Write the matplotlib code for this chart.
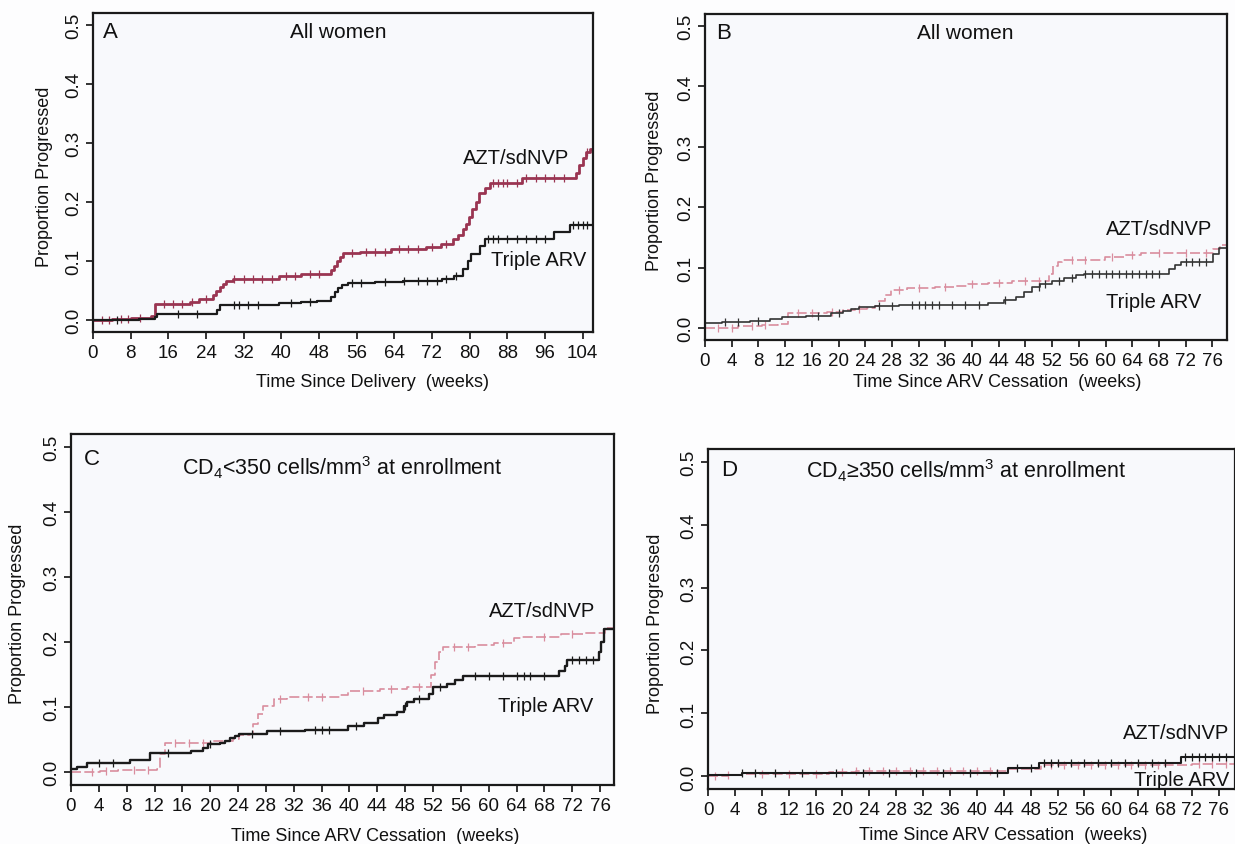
import numpy as np
import matplotlib
matplotlib.use("Agg")
import matplotlib.pyplot as plt

plt.rcParams['font.family'] = ['Liberation Sans', 'DejaVu Sans']
plt.rcParams['mathtext.fontset'] = 'custom'
plt.rcParams['mathtext.rm'] = 'Liberation Sans'
plt.rcParams['mathtext.it'] = 'Liberation Sans:italic'

# ---- data (step times, step values, censor times) ----
A_azt_t = [0, 4, 8, 12.4, 13.1, 20.5, 22.6, 25.5, 26.2, 26.9, 27.6, 28.3, 29.7, 39.6, 44.2,
           50.5, 51.2, 51.8, 52.5, 53.2, 56.7, 63.3, 70.8, 73.9, 76.4, 77.5, 78.5, 79.2, 79.8,
           80.6, 81.3, 81.9, 83.3, 84.3, 91.2, 102.6, 103.3, 104.0, 104.8, 105.5]
A_azt_v = [0.0, 0.002, 0.004, 0.007, 0.027, 0.030, 0.036, 0.042, 0.050, 0.057, 0.062, 0.066,
           0.070, 0.075, 0.078, 0.085, 0.092, 0.100, 0.107, 0.113, 0.116, 0.120, 0.124, 0.129,
           0.137, 0.145, 0.154, 0.163, 0.175, 0.188, 0.200, 0.215, 0.223, 0.232, 0.241, 0.250,
           0.262, 0.275, 0.285, 0.290]
A_azt_cens = [2, 3.5, 6, 7.5, 10, 15, 17, 19, 21, 24, 30, 32, 34, 36, 38, 41, 43, 46, 48, 55,
              58, 60, 62, 65, 67, 69, 72, 75, 85, 86, 87, 88, 90, 92, 94, 96, 98, 100, 105]
A_tri_t = [0, 9.8, 13.1, 13.5, 26.4, 27.0, 39.6, 44.2, 47.5, 50.5, 51.3, 52.0, 52.8, 54.2, 60.0,
           65.8, 74.1, 76.6, 78.5, 79.6, 80.3, 82.3, 83.3, 97.9, 101.4]
A_tri_v = [0.0, 0.002, 0.006, 0.011, 0.018, 0.025, 0.029, 0.031, 0.033, 0.040, 0.048, 0.055,
           0.060, 0.063, 0.065, 0.067, 0.070, 0.074, 0.086, 0.100, 0.112, 0.126, 0.138, 0.150,
           0.1615]
A_tri_cens = [5, 18, 22, 30, 31, 33, 35, 42, 46, 55, 57, 62, 66, 69, 71, 73, 75, 77, 84, 85, 86,
              88, 90, 92, 94, 96, 102, 103, 104, 105]

B_azt_t = [0, 5.0, 8.6, 11.0, 12.5, 18.3, 20.7, 22.5, 24.3, 25.5, 26.1, 27.0, 27.9, 30.3, 34.5,
           37.6, 39.4, 42.4, 46.0, 51.6, 52.2, 52.9, 53.5, 59.9, 62.9, 65.3, 76.1, 77.2]
B_azt_v = [0.0, 0.003, 0.005, 0.007, 0.025, 0.027, 0.029, 0.031, 0.033, 0.036, 0.045, 0.055,
           0.063, 0.066, 0.068, 0.070, 0.072, 0.075, 0.077, 0.090, 0.103, 0.110, 0.113, 0.117,
           0.120, 0.124, 0.130, 0.137]
B_azt_cens = [2, 4, 7, 9, 14, 16, 19, 23, 29, 32, 36, 40, 44, 48, 50, 55, 57, 61, 64, 68, 72, 75]
B_tri_t = [0, 2.6, 6.8, 9.8, 11.6, 15.2, 18.9, 20.7, 21.9, 23.1, 25.5, 29.1, 42.4, 44.8, 46.6,
           47.8, 49.0, 50.2, 52.0, 53.8, 55.6, 56.8, 69.5, 70.4, 71.3, 76.1, 77.0]
B_tri_v = [0.008, 0.010, 0.012, 0.014, 0.018, 0.020, 0.025, 0.028, 0.031, 0.034, 0.036, 0.038,
           0.042, 0.047, 0.052, 0.060, 0.068, 0.072, 0.077, 0.083, 0.087, 0.090, 0.097, 0.104,
           0.110, 0.122, 0.132]
B_tri_cens = [3, 5, 8, 17, 20, 26, 28, 31, 32, 33, 34, 35, 37, 39, 41, 45, 50, 51, 53, 55, 57,
              58, 59, 60, 61, 62, 63, 64, 65, 66, 67, 68, 72, 73, 74, 75]

C_azt_t = [0, 4.2, 6.8, 12.3, 12.8, 13.5, 20.4, 23.3, 24.2, 25.7, 26.2, 26.9, 27.6, 29.1, 31.0,
           38.7, 39.8, 44.4, 48.3, 51.7, 52.3, 52.9, 53.4, 58.0, 60.8, 63.6, 64.8, 70.4, 73.9,
           76.7, 78.0]
C_azt_v = [0.0, 0.001, 0.003, 0.005, 0.028, 0.044, 0.047, 0.051, 0.057, 0.059, 0.074, 0.089,
           0.102, 0.112, 0.116, 0.119, 0.125, 0.127, 0.131, 0.149, 0.169, 0.185, 0.193, 0.195,
           0.199, 0.206, 0.208, 0.212, 0.214, 0.222, 0.231]
C_azt_cens = [3, 5, 9, 11, 15, 17, 19, 30, 34, 36, 42, 46, 50, 55, 57, 62, 68, 72]
C_tri_t = [0, 0.8, 2.3, 8.5, 11.4, 17.3, 19.0, 19.7, 21.4, 22.1, 22.8, 23.5, 24.2, 28.1, 33.6,
           39.8, 42.1, 44.1, 44.9, 46.9, 47.8, 48.3, 49.2, 51.4, 52.0, 54.0, 55.1, 56.3, 70.1,
           70.9, 71.3, 75.9, 76.2, 76.5]
C_tri_v = [0.005, 0.008, 0.014, 0.019, 0.029, 0.033, 0.037, 0.043, 0.045, 0.048, 0.052, 0.055,
           0.058, 0.0625, 0.065, 0.071, 0.076, 0.083, 0.088, 0.092, 0.101, 0.108, 0.113, 0.120,
           0.131, 0.136, 0.142, 0.148, 0.156, 0.1635, 0.172, 0.185, 0.200, 0.220]
C_tri_cens = [4, 6, 14, 20, 26, 30, 35, 36, 37, 41, 48, 50, 53, 58, 60, 62, 64, 65, 66, 68, 72,
              73, 74, 75]

D_azt_t = [0, 3.0, 5.0, 18.0, 22.0, 44.7, 49.5, 72.0]
D_azt_v = [0.0, 0.002, 0.004, 0.007, 0.009, 0.011, 0.018, 0.020]
D_azt_cens = [1, 3, 8, 12, 16, 20, 22, 24, 26, 28, 30, 32, 34, 36, 38, 40, 42, 51, 53, 55, 57,
              59, 61, 63, 65, 67, 73, 75, 77]
D_tri_t = [0, 5.0, 44.7, 49.3, 70.3]
D_tri_v = [0.003, 0.006, 0.0127, 0.0217, 0.031]
D_tri_cens = [5, 7, 10, 14, 19, 23, 27, 31, 35, 39, 43, 46, 48, 50, 51, 52, 54, 56, 58, 60, 62,
              64, 66, 68, 71, 72, 73, 74, 75, 76, 77]

ARM_NAMES = ['AZT/sdNVP', 'Triple ARV']
Y_TICKS = [0.0, 0.1, 0.2, 0.3, 0.4, 0.5]

RED_A = '#9a3552'
PINK = '#d98d9e'
BLACK = '#1b1b1b'
TXT = '#111111'


def km_curve(ax, t, v, cens, t_end, color, lw, ls='-'):
    t = np.asarray(t, float)
    v = np.asarray(v, float)
    tt = np.append(t, t_end)
    vv = np.append(v, v[-1])
    ax.step(tt, vv, where='post', color=color, lw=lw, ls=ls)
    c = np.asarray(cens, float)
    cy = v[np.searchsorted(t, c, side='right') - 1]
    ax.plot(c, cy, ls='none', marker='|', ms=6, mew=0.9, color=color)


def style_axes(ax, xmax, xstep, xlabel, ylab_x, xlab_y):
    ax.set_facecolor('#f8f9fc')
    ax.set_xlim(0, xmax)
    ax.set_ylim(-0.02, 0.52)
    ax.set_xticks(np.arange(0, xmax, xstep))
    ax.set_yticks(Y_TICKS)
    ax.set_yticklabels([f'{y:.1f}' for y in Y_TICKS], rotation=90, va='center')
    ax.tick_params(direction='out', length=5, width=1.2, labelsize=13.5, colors=TXT)
    ax.tick_params(axis='y', pad=3)
    ax.tick_params(axis='x', pad=4)
    for s in ax.spines.values():
        s.set_linewidth(1.6)
        s.set_color('#1a1a1a')
    ax.set_xlabel(xlabel, fontsize=13, color=TXT)
    ax.set_ylabel('Proportion Progressed', fontsize=13, color=TXT)
    ax.xaxis.set_label_coords(0.56, xlab_y)
    ax.yaxis.set_label_coords(ylab_x, 0.49)


fig = plt.figure(figsize=(12.35, 8.45), dpi=100, facecolor='#fdfdfe')

# Panel A
ax = fig.add_axes([93 / 1235, 1 - 333 / 845, 500 / 1235, 319 / 845])
style_axes(ax, 106.2, 8, 'Time Since Delivery  (weeks)', -0.08, -0.13)
km_curve(ax, A_azt_t, A_azt_v, A_azt_cens, 106.2, RED_A, 2.0)
km_curve(ax, A_tri_t, A_tri_v, A_tri_cens, 106.2, BLACK, 1.6)
ax.text(2.2, 0.488, 'A', fontsize=16, va='center', ha='left', color=TXT)
ax.text(52, 0.488, 'All women', fontsize=15, va='center', ha='center', color=TXT)
ax.text(101.2, 0.276, ARM_NAMES[0], fontsize=14.5, va='center', ha='right', color=TXT)
ax.text(104.7, 0.102, ARM_NAMES[1], fontsize=14.5, va='center', ha='right', color=TXT)

# Panel B
ax = fig.add_axes([705 / 1235, 1 - 341 / 845, 522 / 1235, 326 / 845])
style_axes(ax, 78.2, 4, 'Time Since ARV Cessation  (weeks)', -0.08, -0.1)
km_curve(ax, B_azt_t, B_azt_v, B_azt_cens, 78.2, PINK, 1.2, (0, (6, 2)))
km_curve(ax, B_tri_t, B_tri_v, B_tri_cens, 78.2, '#333333', 1.2)
ax.text(1.7, 0.49, 'B', fontsize=16, va='center', ha='left', color=TXT)
ax.text(39, 0.49, 'All women', fontsize=15, va='center', ha='center', color=TXT)
ax.text(76, 0.164, ARM_NAMES[0], fontsize=14.5, va='center', ha='right', color=TXT)
ax.text(74.3, 0.044, ARM_NAMES[1], fontsize=14.5, va='center', ha='right', color=TXT)

# Panel C
ax = fig.add_axes([71 / 1235, 1 - 786 / 845, 543 / 1235, 351 / 845])
style_axes(ax, 78.0, 4, 'Time Since ARV Cessation  (weeks)', -0.082, -0.12)
km_curve(ax, C_azt_t, C_azt_v, C_azt_cens, 78.0, PINK, 1.2, (0, (6, 2)))
km_curve(ax, C_tri_t, C_tri_v, C_tri_cens, 78.0, BLACK, 1.7)
ax.text(1.8, 0.482, 'C', fontsize=16, va='center', ha='left', color=TXT)
ax.text(39, 0.469, r'CD$_4$<350 cells/mm$^3$ at enrollment', fontsize=15.5, va='center',
        ha='center', color=TXT)
ax.text(75.3, 0.248, ARM_NAMES[0], fontsize=14.5, va='center', ha='right', color=TXT)
ax.text(75.0, 0.103, ARM_NAMES[1], fontsize=14.5, va='center', ha='right', color=TXT)

# Panel D
ax = fig.add_axes([708 / 1235, 1 - 790 / 845, 527 / 1235, 340 / 845])
style_axes(ax, 78.4, 4, 'Time Since ARV Cessation  (weeks)', -0.083, -0.11)
km_curve(ax, D_azt_t, D_azt_v, D_azt_cens, 78.4, PINK, 1.2, (0, (6, 2)))
km_curve(ax, D_tri_t, D_tri_v, D_tri_cens, 78.4, BLACK, 1.5)
ax.text(1.9, 0.487, 'D', fontsize=16, va='center', ha='left', color=TXT)
ax.text(38.4, 0.487, r'CD$_4$≥350 cells/mm$^3$ at enrollment', fontsize=15.5, va='center',
        ha='center', color=TXT)
ax.text(77.5, 0.070, ARM_NAMES[0], fontsize=14.5, va='center', ha='right', color=TXT)
ax.text(77.5, -0.005, ARM_NAMES[1], fontsize=14.5, va='center', ha='right', color=TXT)

fig.savefig('out.png', dpi=100, facecolor=fig.get_facecolor())
